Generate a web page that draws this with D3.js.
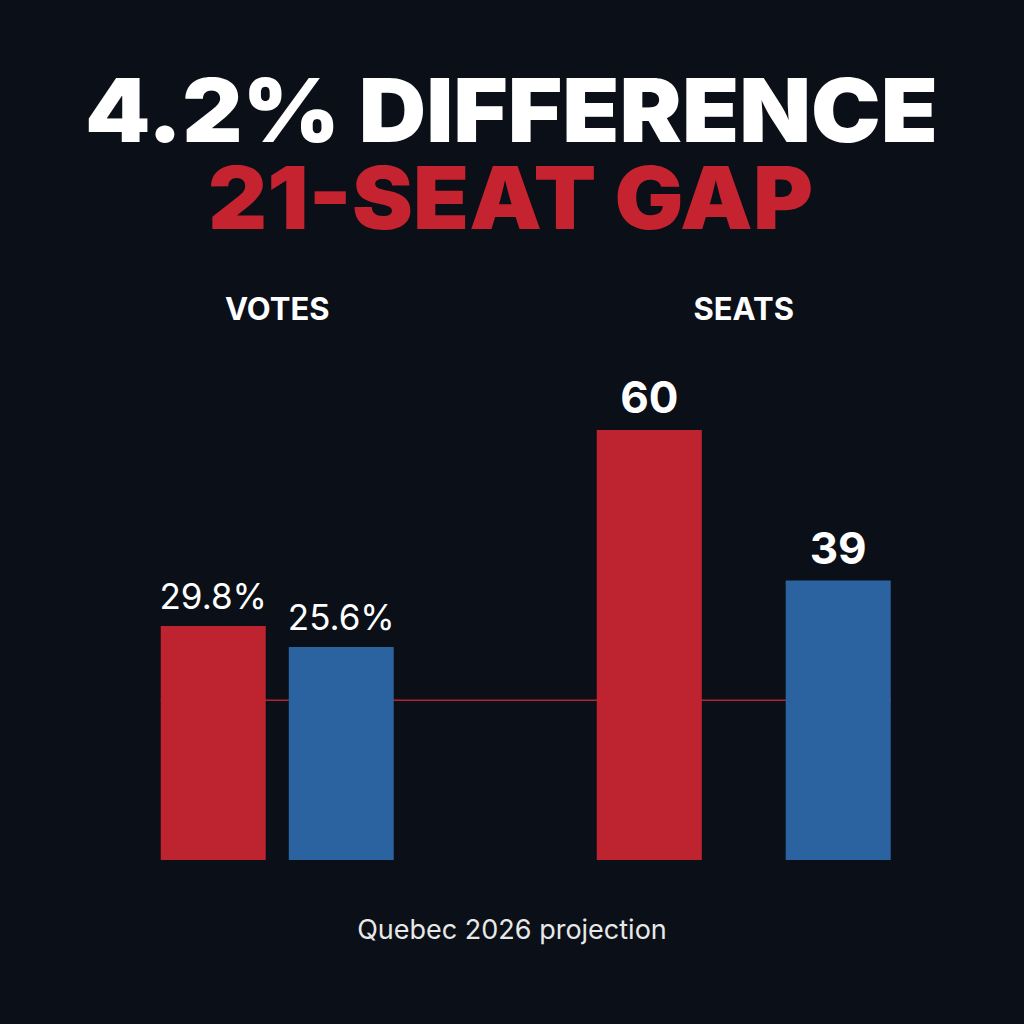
<!DOCTYPE html>
<html>
<head>
<meta charset="utf-8">
<script src="https://cdn.jsdelivr.net/npm/d3@7"></script>
<style>
  html, body { margin: 0; padding: 0; background: #0b0f17; }
  svg { display: block; }
</style>
</head>
<body>
<div></div>
<script>
// chart data
const groups = ["VOTES", "SEATS"];
const parties = ["Red", "Blue"];
const voteValues = [29.8, 25.6];
const seatValues = [60, 39];
const voteLabels = ["29.8%", "25.6%"];
const seatLabels = ["60", "39"];
const titleLines = ["4.2% DIFFERENCE", "21-SEAT GAP"];
const refSeats = 22.3;
const footer = "Quebec 2026 projection";

const width = 1024;
const height = 1024;
const baseline = 860;
const colors = { Red: "#be2330", Blue: "#2b62a0" };

const svg = d3.select("div").append("svg").attr("width", width).attr("height", height);
svg.append("rect").attr("width", width).attr("height", height).attr("fill", "#0b0f17");

// title
svg.append("text")
    .attr("x", 85).attr("y", 142)
    .attr("textLength", 853).attr("lengthAdjust", "spacingAndGlyphs")
    .style("font-family", "Inter, 'Noto Sans', sans-serif")
    .style("font-weight", 900).style("font-size", "88px")
    .attr("fill", "#ffffff")
    .text(titleLines[0]);
svg.append("text")
    .attr("x", 208).attr("y", 229)
    .attr("textLength", 605).attr("lengthAdjust", "spacingAndGlyphs")
    .style("font-family", "Inter, 'Noto Sans', sans-serif")
    .style("font-weight", 900).style("font-size", "86px")
    .attr("fill", "#c4232f")
    .text(titleLines[1]);

// scales
const xGroup = d3.scaleBand().domain(groups).range([44, 977]);
const innerWidth = { VOTES: 233, SEATS: 294 };
const innerPad = { VOTES: 0.18, SEATS: 0.444 };
const xInner = g => {
    const c = xGroup(g) + xGroup.bandwidth() / 2;
    return d3.scaleBand().domain(parties)
        .range([c - innerWidth[g] / 2, c + innerWidth[g] / 2])
        .paddingInner(innerPad[g]).paddingOuter(0);
};
const yScale = {
    VOTES: d3.scaleLinear().domain([-17, 30]).range([baseline, 625]),
    SEATS: d3.scaleLinear().domain([0, 60]).range([baseline, 430])
};

const rows = [];
groups.forEach(g => {
    const vals = g === "VOTES" ? voteValues : seatValues;
    const labs = g === "VOTES" ? voteLabels : seatLabels;
    parties.forEach((p, i) => rows.push({ group: g, party: p, value: vals[i], label: labs[i] }));
});

// reference line behind bars
const xFirst = xInner("VOTES")(parties[0]);
const lastScale = xInner("SEATS");
const xLast = lastScale(parties[1]) + lastScale.bandwidth();
svg.append("line")
    .attr("x1", xFirst).attr("x2", xLast)
    .attr("y1", yScale.SEATS(refSeats)).attr("y2", yScale.SEATS(refSeats))
    .attr("stroke", "#b3242f").attr("stroke-width", 1.5);

// group headers
svg.selectAll(".group-label")
    .data(groups)
    .enter()
    .append("text")
    .attr("class", "group-label")
    .attr("x", d => xGroup(d) + xGroup.bandwidth() / 2)
    .attr("y", 320)
    .attr("text-anchor", "middle")
    .style("font-family", "Inter, 'Open Sans', sans-serif")
    .style("font-weight", 700).style("font-size", "31px")
    .attr("fill", "#ffffff")
    .text(d => d);

// bars
svg.selectAll(".bar")
    .data(rows)
    .enter()
    .append("rect")
    .attr("class", "bar")
    .attr("x", d => xInner(d.group)(d.party))
    .attr("y", d => yScale[d.group](d.value))
    .attr("width", d => xInner(d.group).bandwidth())
    .attr("height", d => baseline - yScale[d.group](d.value))
    .attr("fill", d => colors[d.party]);

// value labels
svg.selectAll(".value")
    .data(rows)
    .enter()
    .append("text")
    .attr("class", "value")
    .attr("x", d => xInner(d.group)(d.party) + xInner(d.group).bandwidth() / 2)
    .attr("y", d => yScale[d.group](d.value) - 17)
    .attr("text-anchor", "middle")
    .style("font-family", "Inter, 'Noto Sans', sans-serif")
    .style("font-weight", d => d.group === "VOTES" ? 400 : 700)
    .style("font-size", d => d.group === "VOTES" ? "35px" : "44px")
    .attr("fill", "#ffffff")
    .text(d => d.label);

// footer
svg.append("text")
    .attr("x", 512).attr("y", 939)
    .attr("text-anchor", "middle")
    .style("font-family", "Inter, 'Noto Sans', sans-serif")
    .style("font-size", "27px")
    .attr("fill", "#e8e8e8")
    .text(footer);
</script>
</body>
</html>
